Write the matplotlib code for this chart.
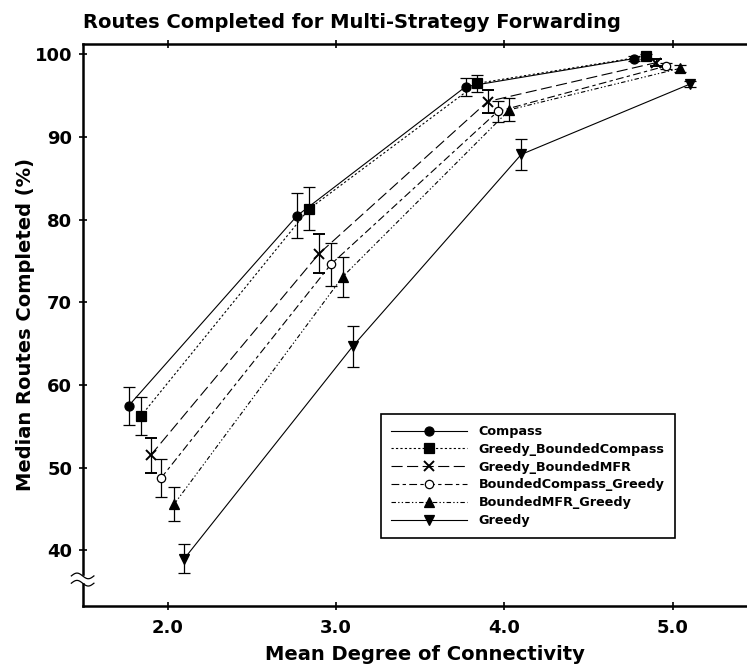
import numpy as np
import matplotlib.pyplot as plt

plt.rcParams['font.family'] = ['DejaVu Sans']
plt.rcParams['font.weight'] = 'bold'

names = ['Compass', 'Greedy_BoundedCompass', 'Greedy_BoundedMFR',
         'BoundedCompass_Greedy', 'BoundedMFR_Greedy', 'Greedy']

# mean degree of connectivity (slightly offset per series)
x_compass = [1.77, 2.77, 3.77, 4.77]
x_gbc = [1.84, 2.84, 3.84, 4.84]
x_gbm = [1.90, 2.90, 3.90, 4.90]
x_bcg = [1.96, 2.97, 3.96, 4.96]
x_bmg = [2.04, 3.04, 4.03, 5.04]
x_greedy = [2.10, 3.10, 4.10, 5.10]

# median routes completed (%)
y_compass = [57.5, 80.5, 96.1, 99.5]
y_gbc = [56.2, 81.3, 96.5, 99.8]
y_gbm = [51.5, 75.9, 94.3, 99.0]
y_bcg = [48.7, 74.6, 93.1, 98.6]
y_bmg = [45.6, 73.1, 93.3, 98.3]
y_greedy = [39.0, 64.7, 87.9, 96.4]

# error bar half widths
e_compass = [2.3, 2.7, 1.1, 0.3]
e_gbc = [2.3, 2.6, 1.0, 0.3]
e_gbm = [2.1, 2.4, 1.4, 0.4]
e_bcg = [2.3, 2.6, 1.3, 0.4]
e_bmg = [2.0, 2.4, 1.4, 0.4]
e_greedy = [1.8, 2.5, 1.9, 0.4]

xs = [x_compass, x_gbc, x_gbm, x_bcg, x_bmg, x_greedy]
ys = [y_compass, y_gbc, y_gbm, y_bcg, y_bmg, y_greedy]
es = [e_compass, e_gbc, e_gbm, e_bcg, e_bmg, e_greedy]

markers = ['o', 's', 'x', 'o', '^', 'v']
faces = ['black', 'black', 'black', 'white', 'black', 'black']
msizes = [6.5, 6.5, 7, 6, 7, 7.5]
styles = ['-', (0, (2, 2)), (0, (10, 4)), (0, (7, 3, 3, 3)),
          (0, (4, 2, 1.2, 2, 1.2, 2)), '-']

fig = plt.figure(figsize=(7.47, 6.68), dpi=100)
ax = fig.add_axes([0.1115, 0.0933, 0.8885, 0.8407])

handles = []
for i in range(len(names)):
    cont = ax.errorbar(xs[i], ys[i], yerr=es[i], color='black',
                       linestyle=styles[i], linewidth=0.8, marker=markers[i],
                       markersize=msizes[i], markerfacecolor=faces[i],
                       markeredgecolor='black',
                       markeredgewidth=1.4 if markers[i] == 'x' else 0.9,
                       ecolor='black', elinewidth=0.9, capsize=4,
                       capthick=0.9)
    handles.append(cont[0])

ax.set_xlim(1.5, 5.44)
ax.set_ylim(33.3, 101.25)
ax.set_xticks([2, 3, 4, 5])
ax.set_xticklabels(['2.0', '3.0', '4.0', '5.0'])
ax.set_yticks([40, 50, 60, 70, 80, 90, 100])
ax.spines['right'].set_visible(False)
for s in ['left', 'bottom', 'top']:
    ax.spines[s].set_linewidth(1.8)
ax.tick_params(axis='both', direction='inout', length=6, width=1.2,
               labelsize=13, top=True)
ax.tick_params(axis='x', pad=6.5)
ax.tick_params(axis='y', pad=5)

# axis break mark on the y axis
t = np.linspace(0, 1, 50)
bx = -0.018 + 0.034 * t
ax.fill_between(np.linspace(-0.005, 0.005, 10), 0.042, 0.052, color='white',
                transform=ax.transAxes, clip_on=False, zorder=4)
for off in (0.040, 0.053):
    ax.plot(bx, off + 0.005 * np.sin(2 * np.pi * t), color='black',
            linewidth=0.9, transform=ax.transAxes, clip_on=False, zorder=5)

ax.set_title('Routes Completed for Multi-Strategy Forwarding', loc='left',
             fontsize=14, fontweight='bold', pad=11.5)
ax.set_xlabel('Mean Degree of Connectivity', fontsize=14, fontweight='bold')
ax.xaxis.set_label_coords(0.515, -0.070, transform=ax.transAxes)
ax.xaxis.label.set_verticalalignment('top')
ax.set_ylabel('Median Routes Completed (%)', fontsize=14, fontweight='bold',
              labelpad=0)

leg = ax.legend(handles, names, loc='upper left',
                bbox_to_anchor=(0.448, 0.341), borderaxespad=0,
                fontsize=9.2, handlelength=5.9, handletextpad=0.9,
                labelspacing=0.375, borderpad=0.85, fancybox=False,
                framealpha=1, edgecolor='black')
leg.get_frame().set_linewidth(1.2)
for text in leg.get_texts():
    text.set_fontweight('bold')

fig.savefig('out.png', dpi=100)
